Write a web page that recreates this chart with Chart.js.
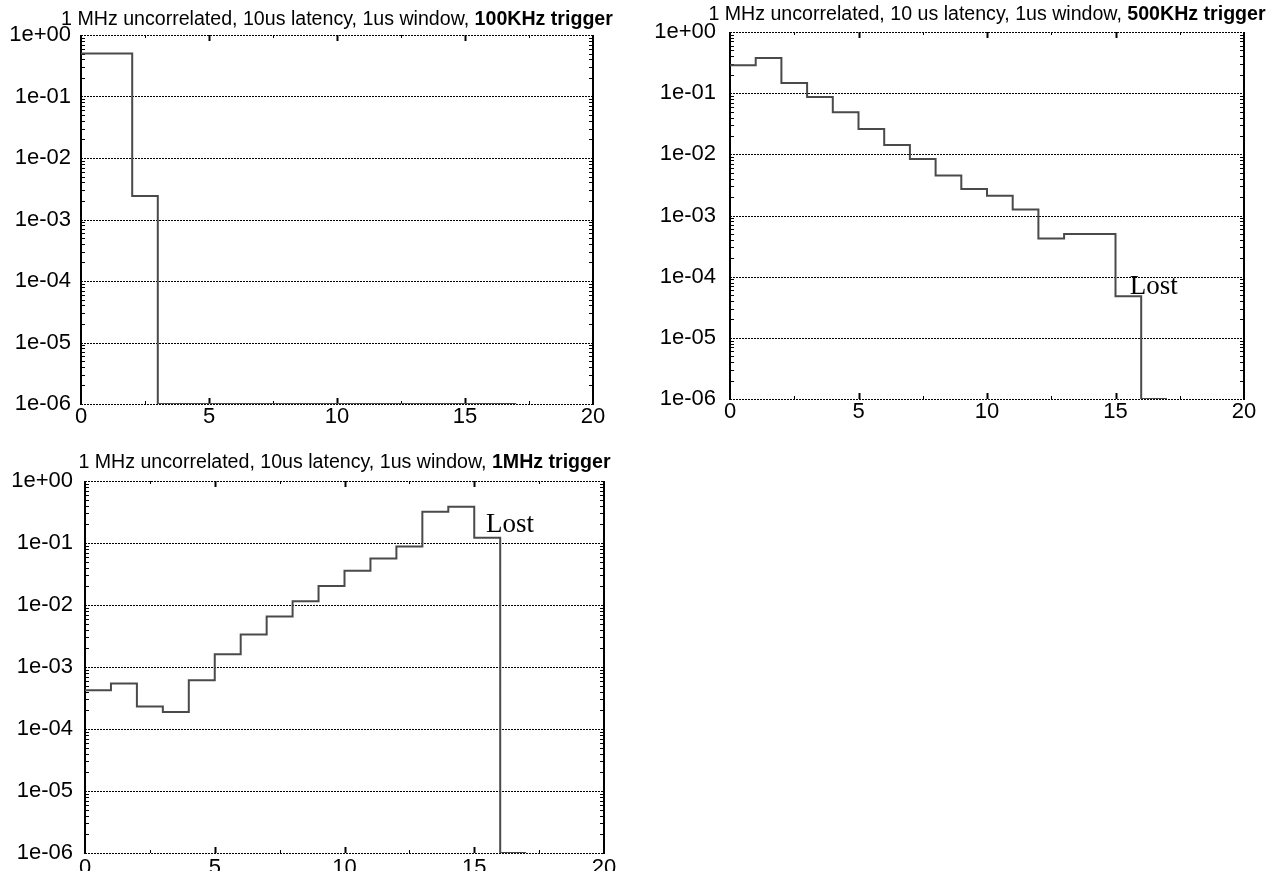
<!DOCTYPE html>
<html lang="en">
<head>
<meta charset="UTF-8">
<title>Trigger latency histograms</title>
<style>
  body { margin: 0; background: #fff; overflow: hidden; }
  .panel { position: absolute; }
  canvas { display: block; }
</style>
<script src="https://cdn.jsdelivr.net/npm/chart.js"></script>
</head>
<body>
<div class="panel" style="left:0;top:0"><canvas id="c100k" width="640" height="435"></canvas></div>
<div class="panel" style="left:645px;top:0"><canvas id="c500k" width="636" height="435"></canvas></div>
<div class="panel" style="left:0;top:440px"><canvas id="c1m" width="640" height="440"></canvas></div>
<script>
// histogram bin edges (17 bins, 0..17)
const binEdges = [0, 1, 2, 3, 4, 5, 6, 7, 8, 9, 10, 11, 12, 13, 14, 15, 16, 17];

// fraction per bin, one array per trigger rate (1e-06 = empty bin, sits on the axis)
const trig100k = [0.5, 0.5, 0.0024, 1e-6, 1e-6, 1e-6, 1e-6, 1e-6, 1e-6, 1e-6, 1e-6, 1e-6, 1e-6, 1e-6, 1e-6, 1e-6, 1e-6];
const trig500k = [0.285, 0.376, 0.147, 0.0865, 0.0486, 0.026, 0.0142, 0.0084, 0.0045, 0.0027, 0.0021, 0.00125, 0.00042, 0.0005, 0.0005, 0.000048, 1e-6];
const trig1m = [0.00042, 0.00054, 0.00023, 0.000188, 0.00061, 0.0016, 0.00335, 0.0065, 0.0115, 0.0202, 0.0356, 0.056, 0.088, 0.318, 0.385, 0.121, 1e-6];

// axes
const xTickValues = [0, 5, 10, 15, 20];
const xTickLabels = ['0', '5', '10', '15', '20'];
const yTickValues = [1e-6, 1e-5, 1e-4, 1e-3, 1e-2, 1e-1, 1];
const yTickLabels = ['1e-06', '1e-05', '1e-04', '1e-03', '1e-02', '1e-01', '1e+00'];

// titles: plain part + bold part
const titlePlain = [
  '1 MHz uncorrelated, 10us latency, 1us window, ',
  '1 MHz uncorrelated, 10 us latency, 1us window, ',
  '1 MHz uncorrelated, 10us latency, 1us window, '
];
const titleBold = ['100KHz trigger', '500KHz trigger', '1MHz trigger'];

const SANS = "'Liberation Sans', Arial, sans-serif";

function toPoints(values) {
  const pts = values.map((v, i) => ({ x: binEdges[i], y: v }));
  pts.push({ x: binEdges[values.length], y: values[values.length - 1] });
  return pts;
}

function line(ctx, x1, y1, x2, y2) {
  ctx.beginPath();
  ctx.moveTo(x1, y1);
  ctx.lineTo(x2, y2);
  ctx.stroke();
}

const framePlugin = {
  id: 'frame',
  beforeDatasetsDraw(chart) {
    const { ctx, chartArea: a, scales: { x, y } } = chart;
    ctx.save();
    ctx.strokeStyle = '#000';
    ctx.lineWidth = 1;
    // dotted decade lines (incl. top and bottom border)
    ctx.setLineDash([2, 1]);
    yTickValues.forEach(v => {
      const py = Math.round(y.getPixelForValue(v)) + 0.5;
      line(ctx, a.left, py, a.right, py);
    });
    ctx.setLineDash([]);
    // log minor ticks on left and right
    for (let d = -6; d < 0; d++) {
      for (let m = 2; m < 10; m++) {
        const py = Math.round(y.getPixelForValue(m * Math.pow(10, d))) + 0.5;
        line(ctx, a.left, py, a.left + 4, py);
        line(ctx, a.right - 4, py, a.right, py);
      }
    }
    // x ticks top and bottom
    [2.5, 5, 7.5, 10, 12.5, 15, 17.5].forEach(v => {
      const px = Math.round(x.getPixelForValue(v)) + 0.5;
      const len = v % 5 === 0 ? 6 : 3;
      ctx.lineWidth = v % 5 === 0 ? 2 : 1;
      line(ctx, px, a.top, px, a.top + len);
      line(ctx, px, a.bottom, px, a.bottom - len);
    });
    // solid left and right axes
    ctx.lineWidth = 2;
    line(ctx, a.left, a.top, a.left, a.bottom + 1);
    line(ctx, a.right, a.top, a.right, a.bottom + 1);
    ctx.restore();
  }
};

const titlePlugin = {
  id: 'mixedTitle',
  afterDraw(chart, args, opts) {
    const { ctx, chartArea: a } = chart;
    ctx.save();
    const normal = '19.6px ' + SANS;
    const bold = 'bold 19.6px ' + SANS;
    ctx.font = normal;
    const w1 = ctx.measureText(opts.plain).width;
    ctx.font = bold;
    const w2 = ctx.measureText(opts.bold).width;
    const x0 = (a.left + a.right) / 2 - (w1 + w2) / 2;
    const yb = a.top - opts.gap;
    ctx.fillStyle = '#000';
    ctx.textBaseline = 'alphabetic';
    ctx.textAlign = 'left';
    ctx.font = normal;
    ctx.fillText(opts.plain, x0, yb);
    ctx.font = bold;
    ctx.fillText(opts.bold, x0 + w1, yb);
    ctx.restore();
  }
};

const lostPlugin = {
  id: 'lostLabel',
  afterDatasetsDraw(chart, args, opts) {
    if (!opts.at) return;
    const { ctx, scales: { x, y } } = chart;
    ctx.save();
    ctx.font = "27px 'Liberation Serif', 'Times New Roman', serif";
    ctx.fillStyle = '#000';
    ctx.textAlign = 'left';
    ctx.textBaseline = 'alphabetic';
    ctx.fillText('Lost', x.getPixelForValue(opts.at[0]), y.getPixelForValue(opts.at[1]));
    ctx.restore();
  }
};

function makeChart(id, values, idx, box, lostAt) {
  return new Chart(document.getElementById(id), {
    type: 'line',
    data: {
      datasets: [{
        data: toPoints(values),
        stepped: 'before',
        borderColor: '#4a4a4a',
        borderWidth: 2,
        pointRadius: 0,
        fill: false
      }]
    },
    options: {
      responsive: false,
      animation: false,
      layout: { padding: { left: 0, top: box.top, right: box.right, bottom: 0 } },
      plugins: {
        legend: { display: false },
        tooltip: { enabled: false },
        mixedTitle: { plain: titlePlain[idx], bold: titleBold[idx], gap: box.titleGap },
        lostLabel: { at: lostAt }
      },
      scales: {
        x: {
          type: 'linear',
          min: 0,
          max: 20,
          grid: { display: false, drawTicks: false },
          border: { display: false },
          afterBuildTicks: s => { s.ticks = xTickValues.map(v => ({ value: v })); },
          afterFit: s => { s.height = box.xh; },
          ticks: {
            autoSkip: false,
            maxRotation: 0,
            padding: box.xpad,
            color: '#000',
            font: { family: SANS, size: 22 },
            callback: (v, i) => xTickLabels[i]
          }
        },
        y: {
          type: 'logarithmic',
          min: 1e-6,
          max: 1,
          grid: { display: false, drawTicks: false },
          border: { display: false },
          afterBuildTicks: s => { s.ticks = yTickValues.map(v => ({ value: v })); },
          afterFit: s => { s.width = box.yw; },
          ticks: {
            autoSkip: false,
            padding: box.ypad,
            color: '#000',
            font: { family: SANS, size: 22 },
            callback: (v, i) => yTickLabels[i]
          }
        }
      }
    },
    plugins: [framePlugin, titlePlugin, lostPlugin]
  });
}

makeChart('c100k', trig100k, 0, { top: 35, right: 47, xh: 31, yw: 81, xpad: 0, ypad: 10, titleGap: 10 }, null);
makeChart('c500k', trig500k, 1, { top: 32, right: 37, xh: 36, yw: 85, xpad: 0, ypad: 14, titleGap: 12 }, [15.55, 5.3e-5]);
makeChart('c1m', trig1m, 2, { top: 41, right: 36, xh: 27, yw: 85, xpad: 2, ypad: 12, titleGap: 13 }, [15.45, 0.15]);
</script>
</body>
</html>
